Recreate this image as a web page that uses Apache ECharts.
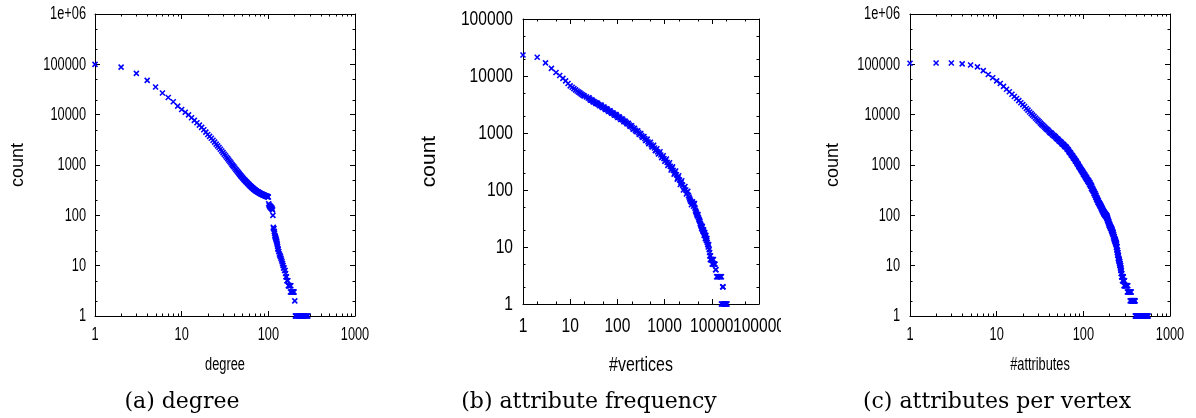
<!DOCTYPE html>
<html>
<head>
<meta charset="utf-8">
<script src="https://cdn.jsdelivr.net/npm/echarts@6/dist/echarts.min.js"></script>
<style>
html,body{margin:0;padding:0;background:#fff;}
#chart{width:1196px;height:418px;}
</style>
</head>
<body>
<div id="chart"></div>
<script>
// ---------- data ----------
// (a) degree distribution
const degreeX = [1,2,3,4,5,6,7,8,9,10,11,12,13,14,15,16,17,18,19,20,21,22,23,24,25,26,27,28,29,30,
31,32,33,34,35,36,37,38,39,40,41,42,43,44,45,46,47,48,49,50,51,52,53,54,55,56,57,58,59,60,
61,62,63,64,65,66,67,68,69,70,71,72,73,74,75,76,77,78,79,80,81,82,83,84,85,86,87,88,89,90,
91,92,93,94,95,96,97,98,99,100,101,102,103,104,105,106,107,108,109,110,111,112,113,114,115,116,117,118,119,120,
121,122,123,124,125,126,127,128,129,130,132,134,136,138,140,142,144,146,148,150,152,154,156,158,160,162,164,166,168,170,
172,174,176,178,180,182,184,186,188,190,192,194,196,198,202,205,208,212,216,220,224,228,232,236,240,245,250,255,260,265,270,275,280,286];
const degreeCount = [100000,88000,66000,48000,35500,27000,22000,18000,14800,12700,11200,9900,8700,7700,6900,6200,5600,5000,4500,4050,3700,3400,3100,2850,2600,2400,2220,2050,1900,1760,
1640,1530,1430,1340,1250,1170,1100,1030,970,920,870,825,785,745,710,675,645,615,590,565,545,525,505,490,472,458,444,430,418,405,
394,383,373,364,355,347,339,332,325,318,313,308,303,298,294,290,286,282,279,275,272,269,266,263,261,258,256,254,251,249,
247,245,243,241,240,238,236,235,233,232,170,160,155,150,146,152,140,145,136,140,132,128,100,58,55,54,48,44,40,38,
36,35,33,32,30,28,26,24,22,21,19,17,16,15,14,13,12,11,10,9,9,8,8,7,6,6,5,5,5,4,
4,4,4,4,3,4,3,3,3,3,3,3,3,3,2,1,1,1,1,1,1,1,1,1,1,1,1,1,1,1,1,1,1,1];

// (b) attribute frequency
const freqX = [1,2,3,4,5,6,7,8,9,10,11,12,13,14,15,16,17,18,19,20,22,24,26,28,30,32,34,36,38,40,
43,46,50,54,58,62,67,72,78,84,90,97,105,113,122,132,142,153,165,178,192,207,223,240,260,280,300,325,350,380,
410,445,480,520,560,610,660,710,770,830,900,970,1050,1130,1220,1320,1420,1530,1650,1780,1920,2070,2230,2400,2600,2800,3000,3200,3400,3600,
3800,4000,4200,4400,4600,4800,5000,5200,5400,5600,5800,6000,6200,6400,6600,6800,7000,7200,7400,7600,7800,8000,8400,8800,9100,9300,9600,10000,10400,11000,
11700,12300,13000,14000,15000,16000,17300,16500,17500,18500,19500,21000];
const freqCount = [23400,21300,17000,13600,11500,10200,9100,8200,7400,6700,6350,6000,5700,5450,5250,5050,4850,4700,4550,4450,4300,4100,3950,3800,3650,3550,3430,3330,3240,3170,
3060,2960,2830,2720,2620,2530,2430,2340,2250,2160,2080,2000,1900,1830,1750,1670,1600,1530,1460,1390,1320,1250,1180,1120,1060,1010,960,900,850,800,
750,700,660,620,580,545,505,470,440,410,380,355,330,305,280,260,240,220,200,185,165,150,135,122,110,100,92,80,70,63,
60,58,55,48,42,38,35,33,30,28,25,23,22,20,19,18,17,16,15,14,13,12,10,9,7,6,6,6,6,5,
5,4,3,3,3,3,2,1,1,1,1,1];
// further points of the dense band in (b): [#vertices, count]
const freqBand = [[25,4150],[27,3750],[29,3800],[31,3500],[35,3300],[37,3350],[42,3000],[45,3100],[48,2800],[52,2850],
[56,2600],[60,2650],[65,2400],[70,2450],[75,2230],[81,2250],[87,2050],[94,2100],[101,1880],[109,1920],[117,1730],[127,1760],
[137,1580],[147,1610],[159,1450],[171,1480],[185,1310],[199,1340],[215,1170],[231,1210],[250,1060],[270,1090],[290,940],
[312,980],[337,840],[365,870],[395,740],[427,780],[462,650],[500,690],[540,570],[585,610],[635,490],[685,530],[740,430],
[800,470],[865,370],[935,400],[1010,320],[1090,350],[1175,270],[1270,300],[1370,225],[1475,255],[1590,190],[1715,215],
[1850,155],[1995,178],[2150,125],[2315,145],[2500,100],[2700,115],[2900,85],[3100,95],[3300,75],[3500,66],[3700,55],
[3900,62],[4100,52],[4300,58],[4500,44],[4700,40],[4900,36],[5100,37],[5300,31],[5500,29],[5700,26],[5900,24],[6100,21],
[6300,23],[6500,19],[6700,20],[6900,16],[7100,18],[7300,14],[7500,16],[7700,13],[7900,14],[8200,11],[8600,11],[9000,8],
[9400,7],[9800,6],[10200,5],[10800,6],[11300,5],[12000,4],[12700,3],[13500,3],[14500,3],[15500,3],[16000,1],[17000,2],
[18000,1],[19000,1],[20000,1],[20500,1]];

// (c) attributes per vertex
const attrX = [1,2,3,4,5,6,7,8,9,10,11,12,13,14,15,16,17,18,19,20,21,22,23,24,25,26,27,28,29,30,
32,34,36,38,40,42,44,46,48,50,52,54,56,58,60,62,64,66,68,70,72,74,76,78,80,82,84,86,88,90,
93,96,99,102,105,108,111,114,117,120,123,126,129,132,135,138,141,144,147,150,153,156,159,162,165,168,171,174,177,180,
183,186,189,192,195,198,201,204,207,210,213,216,219,222,225,228,231,234,237,240,243,246,249,252,255,258,261,264,267,270,
273,276,279,282,285,288,291,294,297,300,305,310,315,320,326,332,338,344,350,356,362,368,374,380,386,392,398,406,414,422,
430,440,450,460,470,480,490,500,510,520,530,545,560];
const attrCount = [105000,106000,106000,102000,97000,89000,75000,63000,54000,47000,41500,36500,32000,28500,25500,23000,21000,19000,17300,15800,14500,13300,12300,11300,10500,9800,9200,8600,8100,7600,
6800,6150,5600,5100,4700,4350,4050,3800,3550,3300,3100,2920,2750,2600,2450,2320,2200,2050,1900,1770,1650,1550,1450,1360,1280,1200,1120,1050,985,925,
845,775,710,650,600,555,515,480,450,420,385,350,320,295,270,248,228,210,195,182,170,160,152,145,135,125,118,112,108,104,
101,98,90,82,76,70,65,60,57,55,52,48,45,42,38,35,33,31,29,27,24,20,18,16,14,13,12,11,10,9,
8,7,6,6,6,6,5,5,5,4,4,4,4,4,4,3,3,3,3,3,2,2,2,2,2,2,1,1,1,1,
1,1,1,1,1,1,1,1,1,1,1,1,1];
// further points of the dense band in (c): [#attributes, count]
const attrBand = [[31,7250],[33,6400],[35,5900],[37,5300],[39,4950],[41,4450],[43,4250],[45,3850],[47,3700],[49,3380],
[51,3250],[53,2960],[55,2870],[57,2620],[59,2560],[61,2340],[63,2290],[65,2080],[67,2000],[69,1800],[71,1740],[73,1560],
[75,1530],[77,1370],[79,1340],[81,1200],[83,1180],[85,1060],[87,1040],[89,930],[91,900],[92,860],[94,800],[95,800],
[97,730],[98,750],[100,660],[101,690],[103,610],[104,640],[106,560],[107,590],[109,520],[110,550],[112,480],[113,510],
[115,450],[116,480],[118,410],[119,450],[121,380],[122,410],[124,340],[125,380],[127,320],[128,340],[130,300],[131,310],
[133,270],[134,290],[136,250],[137,270],[139,230],[140,250],[142,210],[143,225],[145,195],[146,210],[148,180],[149,195],
[151,170],[152,180],[154,160],[155,170],[157,150],[158,160],[160,140],[161,152],[163,130],[164,140],[166,122],[167,132],
[169,115],[170,125],[172,108],[173,118],[175,104],[176,112],[178,100],[179,108],[181,96],[182,104],[184,92],[185,100],
[187,86],[188,95],[190,80],[191,88],[193,74],[194,80],[196,68],[197,74],[199,63],[200,68],[202,60],[203,64],[205,56],
[206,60],[208,54],[209,57],[211,50],[212,55],[214,47],[215,51],[217,44],[218,48],[220,41],[221,45],[223,37],[224,41],
[226,34],[227,38],[229,32],[230,35],[232,30],[233,33],[235,28],[236,31],[238,26],[239,29],[241,23],[242,27],[244,21],
[245,24],[247,18],[248,20],[250,16],[251,18],[253,14],[254,16],[256,13],[257,14],[259,12],[260,13],[262,11],[263,12],
[265,10],[266,11],[268,9],[269,10],[271,8],[272,9],[274,7],[275,8],[277,7],[278,6],[280,6],[281,6],[283,5],[284,6],
[286,5],[287,6],[289,5],[290,5],[293,5],[295,4],[298,5],[302,4],[307,4],[312,4],[317,4],[322,3],[329,3],[335,3],[341,3],
[347,2],[353,3],[359,2],[365,2],[371,2],[377,2],[383,2],[389,2],[395,2],[402,1],[410,1],[418,1],[426,1],[435,1],[445,1],
[455,1],[465,1],[475,1],[485,1],[495,1],[505,1],[515,1],[525,1],[538,1],[552,1]];

// axis tick positions / labels
const majorX_ac = [1,10,100,1000];
const majorX_b = [1,10,100,1000,10000,100000];
const majorY_6 = [1,10,100,1000,10000,100000,1000000];
const majorY_5 = [1,10,100,1000,10000,100000];
const minorX_ac = [2,3,4,5,6,7,8,9,20,30,40,50,60,70,80,90,200,300,400,500,600,700,800,900];
const minorX_b = [2,5,20,50,200,500,2000,5000,20000,50000];
const minorY_6 = [2,5,20,50,200,500,2000,5000,20000,50000,200000,500000];
const minorY_5 = [2,5,20,50,200,500,2000,5000,20000,50000];

const captions = ['(a) degree','(b) attribute frequency','(c) attributes per vertex'];
const xNames = ['degree','#vertices','#attributes'];
const yName = 'count';

// ---------- chart ----------
const SANS = "'Liberation Sans',Arimo,Arial,sans-serif";
const SERIF = "'DejaVu Serif','Liberation Serif',serif";
const BLUE = '#0000ff';
const XSYM = 'path://M0,0L10,10M10,0L0,10';

const grids = [
  {left:95, top:14, width:260, height:302},
  {left:523, top:19, width:236, height:285},
  {left:910, top:14, width:260, height:302}
];
const panelCfg = [
  {xMax:1000, yMax:1e6, fs:17.5, sx:0.73, xLabDy:19, yLabDx:9, nameFs:17.5, nameSx:0.73, yNameGap:68, yNameSize:18},
  {xMax:100000, yMax:1e5, fs:19.5, sx:0.8, xLabDy:22.5, yLabDx:10, nameFs:21, nameSx:0.76, yNameGap:83, yNameSize:21},
  {xMax:1000, yMax:1e6, fs:17.5, sx:0.73, xLabDy:19, yLabDx:10, nameFs:17.5, nameSx:0.73, yNameGap:68, yNameSize:18}
];
const majorXs = [majorX_ac, majorX_b, majorX_ac];
const majorYs = [majorY_6, majorY_5, majorY_6];
const minorXs = [minorX_ac, minorX_b, minorX_ac];
const minorYs = [minorY_6, minorY_5, minorY_6];

function fmt(v){
  const r = Math.round(v);
  if (r === 1000000) return '1e+06';
  return String(r);
}

const xAxis = [], yAxis = [], series = [];
const lineBlack = {color:'#000', width:1};
panelCfg.forEach((p, g) => {
  const baseX = {type:'log', logBase:10, min:1, max:p.xMax, gridIndex:g,
    axisLine:{show:true, onZero:false, lineStyle:lineBlack},
    axisTick:{show:true, inside:true, length:5, lineStyle:lineBlack},
    axisLabel:{show:false},
    splitLine:{show:false}, minorTick:{show:false}, minorSplitLine:{show:false}};
  xAxis.push(Object.assign({}, baseX, {position:'bottom'}));
  xAxis.push(Object.assign({}, baseX, {position:'top'}));
  const baseY = {type:'log', logBase:10, min:1, max:p.yMax, gridIndex:g,
    axisLine:{show:true, onZero:false, lineStyle:lineBlack},
    axisTick:{show:true, inside:true, length:5, lineStyle:lineBlack},
    axisLabel:{show:false},
    splitLine:{show:false}, minorTick:{show:false}, minorSplitLine:{show:false}};
  yAxis.push(Object.assign({}, baseY, {position:'left',
    name:yName, nameLocation:'middle', nameGap:p.yNameGap, nameRotate:90,
    nameTextStyle:{color:'#000', fontFamily:SANS, fontSize:p.yNameSize}}));
  yAxis.push(Object.assign({}, baseY, {position:'right'}));
});

const pointSets = [
  degreeX.map((x,i)=>[x, degreeCount[i]]),
  freqX.map((x,i)=>[x, freqCount[i]]).concat(freqBand),
  attrX.map((x,i)=>[x, attrCount[i]]).concat(attrBand)
];
pointSets.forEach((d, g) => {
  series.push({type:'scatter', xAxisIndex:2*g, yAxisIndex:2*g, data:d,
    symbol:XSYM, symbolSize:5,
    itemStyle:{color:'rgba(0,0,0,0)', borderColor:BLUE, borderWidth:1.55, opacity:1},
    emphasis:{disabled:true}, animation:false, silent:true, z:5});
});

const ML = 2.5;
function tickX(params, api){
  const cs = params.coordSys;
  const px = Math.round(api.coord([api.value(0), 1])[0]) + 0.5;
  const st = {stroke:'#000', lineWidth:1};
  return {type:'group', children:[
    {type:'line', shape:{x1:px, y1:cs.y+cs.height, x2:px, y2:cs.y+cs.height-ML}, style:st},
    {type:'line', shape:{x1:px, y1:cs.y, x2:px, y2:cs.y+ML}, style:st}
  ]};
}
function tickY(params, api){
  const cs = params.coordSys;
  const py = Math.round(api.coord([1, api.value(1)])[1]) + 0.5;
  const st = {stroke:'#000', lineWidth:1};
  return {type:'group', children:[
    {type:'line', shape:{x1:cs.x, y1:py, x2:cs.x+ML, y2:py}, style:st},
    {type:'line', shape:{x1:cs.x+cs.width, y1:py, x2:cs.x+cs.width-ML, y2:py}, style:st}
  ]};
}
function labelX(p){
  return function(params, api){
    const v = api.value(0);
    const c = api.coord([v, 1]);
    return {type:'text', x:c[0], y:c[1]+p.xLabDy, scaleX:p.sx,
      style:{text:fmt(v), fontSize:p.fs, fontFamily:SANS, fill:'#000', align:'center', verticalAlign:'middle'}};
  };
}
function labelY(p){
  return function(params, api){
    const v = api.value(1);
    const c = api.coord([1, v]);
    return {type:'text', x:c[0]-p.yLabDx, y:c[1]+0.5, scaleX:p.sx,
      style:{text:fmt(v), fontSize:p.fs, fontFamily:SANS, fill:'#000', align:'right', verticalAlign:'middle'}};
  };
}
[0,1,2].forEach(g => {
  const p = panelCfg[g];
  series.push({type:'custom', xAxisIndex:2*g, yAxisIndex:2*g, renderItem:tickX, clip:false,
    data:minorXs[g].filter(v=>v<p.xMax).map(v=>[v,1]), silent:true, animation:false, z:3});
  series.push({type:'custom', xAxisIndex:2*g, yAxisIndex:2*g, renderItem:tickY, clip:false,
    data:minorYs[g].filter(v=>v<p.yMax).map(v=>[1,v]), silent:true, animation:false, z:3});
  series.push({type:'custom', xAxisIndex:2*g, yAxisIndex:2*g, renderItem:labelX(p), clip:false,
    data:majorXs[g].map(v=>[v,1]), silent:true, animation:false, z:4});
  series.push({type:'custom', xAxisIndex:2*g, yAxisIndex:2*g, renderItem:labelY(p), clip:false,
    data:majorYs[g].map(v=>[1,v]), silent:true, animation:false, z:4});
});

// axis titles (condensed like the original) and sub-figure captions
const graphic = [];
grids.forEach((gr, g) => {
  const p = panelCfg[g];
  graphic.push({type:'text', x:gr.left + gr.width/2, y:365, scaleX:p.nameSx, silent:true,
    style:{text:xNames[g], fontSize:p.nameFs, fontFamily:SANS, fill:'#000', align:'center', verticalAlign:'middle'}});
});
const capCenters = [182, 589, 997];
captions.forEach((c, i) => {
  graphic.push({type:'text', x:capCenters[i], y:402, silent:true,
    style:{text:c, fontSize:22, fontFamily:SERIF, fill:'#000', align:'center', verticalAlign:'middle'}});
});
// the original figure is cut off at the right of panel (b)'s last tick label
graphic.push({type:'rect', shape:{x:781, y:317, width:24, height:24}, style:{fill:'#fff'}, z:100, silent:true});

const chart = echarts.init(document.getElementById('chart'), null, {renderer:'canvas'});
chart.setOption({
  backgroundColor:'#fff',
  animation:false,
  grid: grids.map(g=>Object.assign({containLabel:false, show:false}, g)),
  xAxis, yAxis, series, graphic
});
</script>
</body>
</html>
